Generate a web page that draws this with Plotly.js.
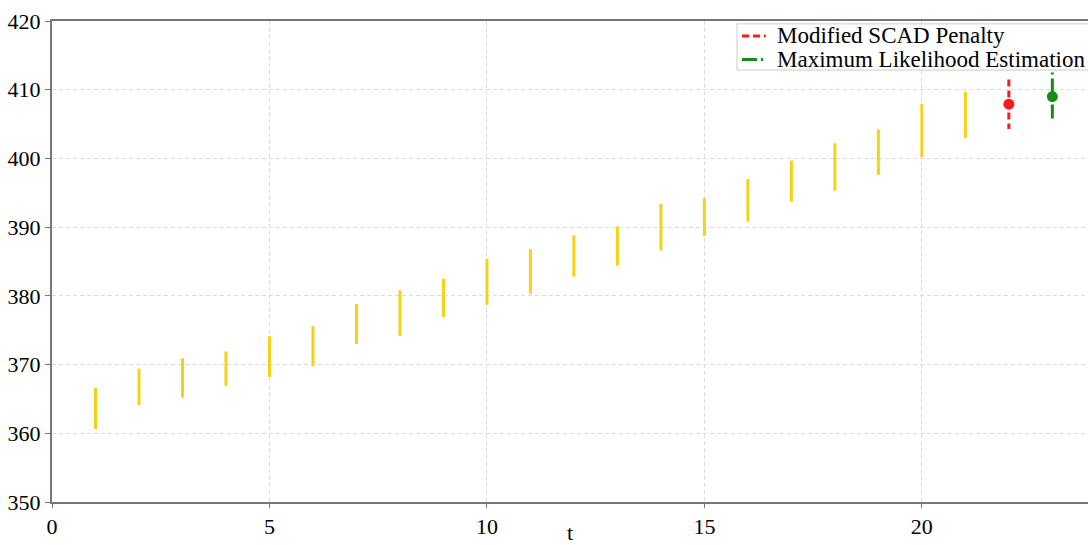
<!DOCTYPE html>
<html>
<head>
<meta charset="utf-8">
<script src="https://cdn.plot.ly/plotly-3.0.1.min.js"></script>
<style>html,body{margin:0;padding:0;background:#fff;}#chart{width:1088px;height:545px;}</style>
</head>
<body>
<div id="chart"></div>
<script>
// Interval data
const t = [1,2,3,4,5,6,7,8,9,10,11,12,13,14,15,16,17,18,19,20,21];
const lower = [360.6,364.1,365.2,366.9,368.2,369.8,373.0,374.2,376.9,378.7,380.3,382.8,384.4,386.6,388.7,390.8,393.7,395.3,397.6,400.2,403.0];
const upper = [366.6,369.4,370.9,371.9,374.1,375.6,378.8,380.8,382.5,385.4,386.8,388.8,390.1,393.4,394.2,397.0,399.7,402.2,404.2,407.9,409.7];

const scadT = [22];
const scadPoint = [407.9];
const scadLow = [404.3];
const scadHigh = [411.5];

const mleT = [23];
const mlePoint = [409.0];
const mleLow = [405.3];
const mleHigh = [412.5];

const legendLabels = ['Modified SCAD Penalty', 'Maximum Likelihood Estimation'];
const xTicks = [0,5,10,15,20];
const yTicks = [350,360,370,380,390,400,410,420];

const RED = '#ff1a1a', GREEN = '#1a8a1a', YELLOW = '#f4d312';
const RED_DASH = '7px,4px';
const GREEN_DASH = '2px,4px,14px,6px';

// vertical segments drawn from top to bottom so dash patterns start at the top
function segs(xs, lo, hi) {
  const X = [], Y = [];
  xs.forEach((x, i) => { X.push(x, x, null); Y.push(hi[i], lo[i], null); });
  return {X, Y};
}

const yb = segs(t, lower, upper);
const rs = segs(scadT, scadLow, scadHigh);
const gs = segs(mleT, mleLow, mleHigh);

const traces = [
  {x: yb.X, y: yb.Y, mode: 'lines', line: {color: YELLOW, width: 3}, showlegend: false, hoverinfo: 'skip'},
  {x: rs.X, y: rs.Y, mode: 'lines', name: legendLabels[0], line: {color: RED, width: 3, dash: RED_DASH}, showlegend: false},
  {x: scadT, y: scadPoint, mode: 'markers', marker: {color: RED, size: 11}, showlegend: false},
  {x: gs.X, y: gs.Y, mode: 'lines', name: legendLabels[1], line: {color: GREEN, width: 3, dash: GREEN_DASH}, showlegend: false},
  {x: mleT, y: mlePoint, mode: 'markers', marker: {color: GREEN, size: 11}, showlegend: false}
];

// hand-built legend (paper coordinates)
const legX0 = 0.6612, legX1 = 1.05, legY0 = 0.898, legY1 = 0.994;
const row1 = 0.969, row2 = 0.920;
const sx0 = 0.666, sx1 = 0.689, tx = 0.6975;

const layout = {
  width: 1088, height: 545,
  margin: {l: 52, r: 0, t: 21, b: 43},
  paper_bgcolor: '#fff', plot_bgcolor: '#fff',
  font: {family: '"Liberation Serif", "Times New Roman", serif', color: '#000', size: 22},
  showlegend: false,
  xaxis: {
    range: [0, 23.82], tickvals: xTicks, ticktext: xTicks.map(String),
    showgrid: true, gridcolor: '#dcdcdc', griddash: '4px,3px', gridwidth: 1,
    zeroline: false, showline: true, linecolor: '#777', linewidth: 2, mirror: true,
    ticks: 'outside', ticklen: 4, tickcolor: '#777',
    tickfont: {size: 22},
    title: {text: 't', font: {size: 22}, standoff: 0}
  },
  yaxis: {
    range: [350, 420], tickvals: yTicks, ticktext: yTicks.map(String),
    showgrid: true, gridcolor: '#dcdcdc', griddash: '4px,3px', gridwidth: 1,
    zeroline: false, showline: true, linecolor: '#777', linewidth: 2, mirror: true,
    ticks: 'outside', ticklen: 5, tickcolor: '#777',
    tickfont: {size: 22}
  },
  shapes: [
    {type: 'rect', xref: 'paper', yref: 'paper', x0: legX0, x1: legX1, y0: legY0, y1: legY1,
     line: {color: '#cccccc', width: 1}, fillcolor: 'rgba(255,255,255,0.95)', layer: 'above'},
    {type: 'line', xref: 'paper', yref: 'paper', x0: sx0, x1: sx1, y0: row1, y1: row1,
     line: {color: RED, width: 3, dash: RED_DASH}, layer: 'above'},
    {type: 'line', xref: 'paper', yref: 'paper', x0: sx0, x1: sx1, y0: row2, y1: row2,
     line: {color: GREEN, width: 3, dash: '15px,4px,2px,10px'}, layer: 'above'}
  ],
  annotations: [
    {xref: 'paper', yref: 'paper', x: tx, y: row1, xanchor: 'left', yanchor: 'middle',
     text: legendLabels[0], showarrow: false, font: {size: 23, color: '#000'}},
    {xref: 'paper', yref: 'paper', x: tx, y: row2, xanchor: 'left', yanchor: 'middle',
     text: legendLabels[1], showarrow: false, font: {size: 23, color: '#000'}}
  ]
};

Plotly.newPlot('chart', traces, layout, {displayModeBar: false, staticPlot: true});
</script>
</body>
</html>
